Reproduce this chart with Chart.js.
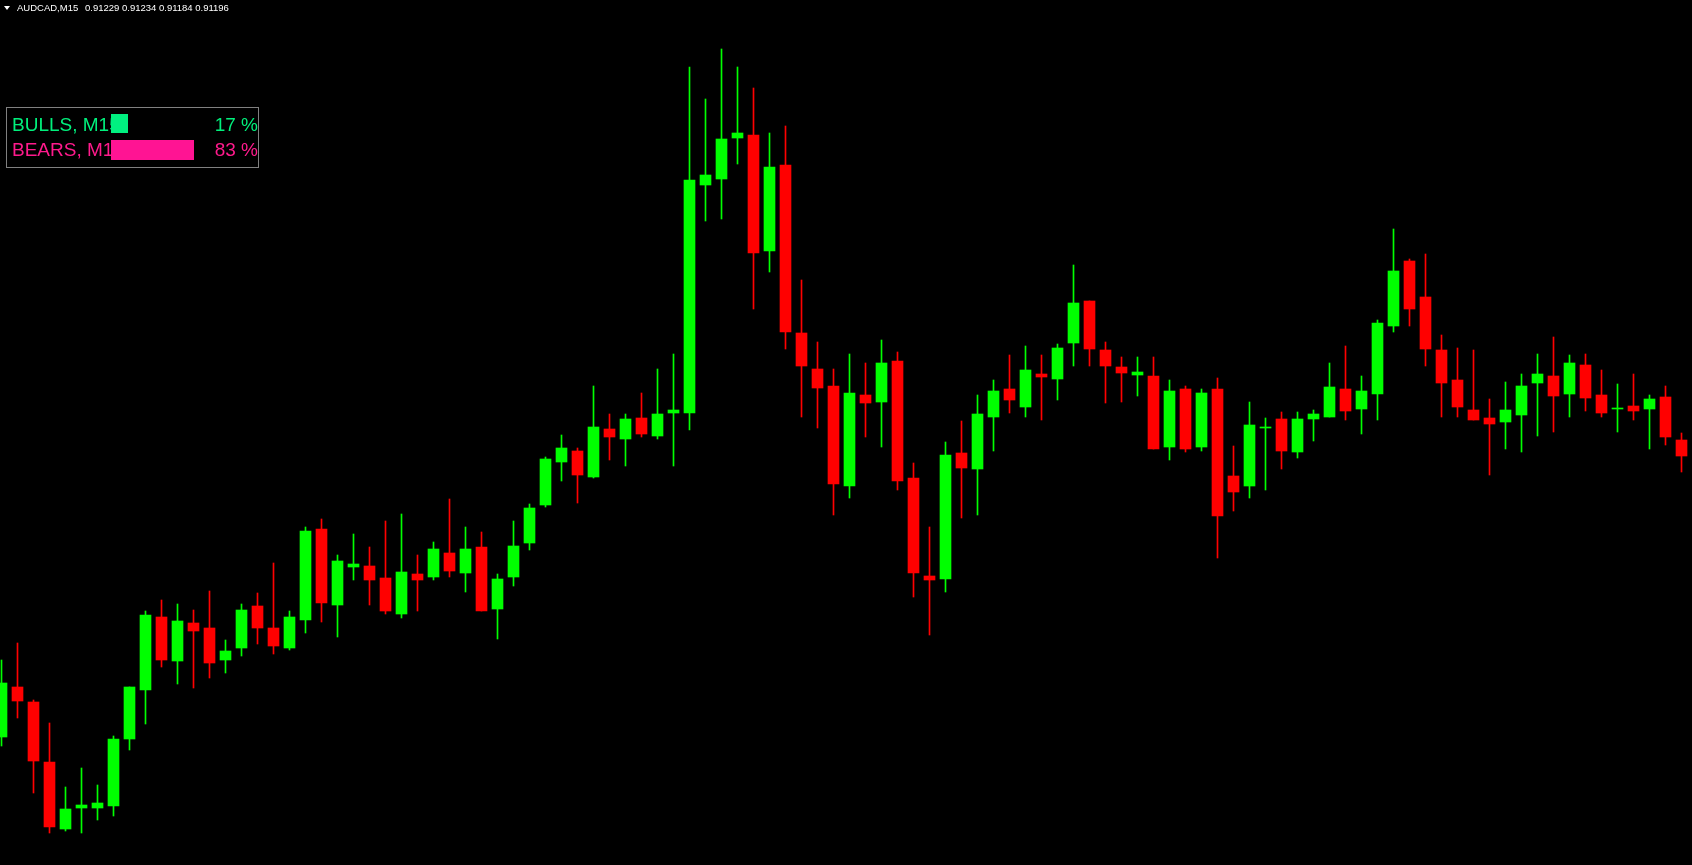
<!DOCTYPE html>
<html>
<head>
<meta charset="utf-8">
<title>AUDCAD,M15</title>
<script src="https://cdn.jsdelivr.net/npm/chart.js@4.4.1/dist/chart.umd.min.js"></script>
<style>
  html, body { margin: 0; padding: 0; background: #000; overflow: hidden; }
  #wrap { width: 1692px; height: 865px; position: relative; }
</style>
</head>
<body>
<div id="wrap"><canvas id="candles"></canvas></div>
<script>
// AUDCAD M15 bars, oldest first
const opens = [
  0.90915, 0.90965, 0.90950, 0.90890, 0.90823, 0.90844, 0.90844, 0.90846, 0.90913, 0.90962,
  0.91035, 0.90991, 0.91029, 0.91024, 0.90992, 0.91004, 0.91046, 0.91024, 0.91004, 0.91032,
  0.91123, 0.91047, 0.91085, 0.91086, 0.91074, 0.91038, 0.91078, 0.91075, 0.91099, 0.91079,
  0.91105, 0.91043, 0.91075, 0.91109, 0.91147, 0.91190, 0.91201, 0.91175, 0.91223, 0.91213,
  0.91234, 0.91216, 0.91239, 0.91239, 0.91467, 0.91473, 0.91514, 0.91517, 0.91401, 0.91487,
  0.91319, 0.91283, 0.91266, 0.91166, 0.91257, 0.91250, 0.91291, 0.91174, 0.91076, 0.91073,
  0.91199, 0.91183, 0.91235, 0.91263, 0.91245, 0.91278, 0.91273, 0.91309, 0.91351, 0.91302,
  0.91285, 0.91277, 0.91276, 0.91205, 0.91263, 0.91205, 0.91263, 0.91176, 0.91166, 0.91224,
  0.91233, 0.91200, 0.91233, 0.91235, 0.91263, 0.91243, 0.91258, 0.91326, 0.91391, 0.91355,
  0.91302, 0.91272, 0.91242, 0.91234, 0.91230, 0.91237, 0.91269, 0.91276, 0.91258, 0.91287,
  0.91257, 0.91243, 0.91246, 0.91243, 0.91255, 0.91212
];
const highs = [
  0.90992, 0.91009, 0.90952, 0.90929, 0.90865, 0.90884, 0.90867, 0.90916, 0.90965, 0.91041,
  0.91052, 0.91048, 0.91042, 0.91061, 0.91012, 0.91048, 0.91059, 0.91089, 0.91041, 0.91125,
  0.91133, 0.91097, 0.91118, 0.91105, 0.91131, 0.91138, 0.91097, 0.91110, 0.91153, 0.91125,
  0.91120, 0.91078, 0.91131, 0.91148, 0.91195, 0.91217, 0.91204, 0.91266, 0.91238, 0.91238,
  0.91259, 0.91283, 0.91298, 0.91585, 0.91553, 0.91603, 0.91585, 0.91564, 0.91519, 0.91526,
  0.91372, 0.91310, 0.91283, 0.91298, 0.91289, 0.91312, 0.91300, 0.91189, 0.91125, 0.91210,
  0.91231, 0.91257, 0.91272, 0.91297, 0.91306, 0.91297, 0.91308, 0.91387, 0.91351, 0.91310,
  0.91295, 0.91295, 0.91295, 0.91272, 0.91266, 0.91263, 0.91274, 0.91206, 0.91250, 0.91234,
  0.91240, 0.91240, 0.91242, 0.91289, 0.91306, 0.91276, 0.91332, 0.91423, 0.91393, 0.91398,
  0.91317, 0.91304, 0.91302, 0.91253, 0.91270, 0.91278, 0.91298, 0.91315, 0.91297, 0.91298,
  0.91282, 0.91268, 0.91278, 0.91257, 0.91266, 0.91219
];
const lows = [
  0.90906, 0.90934, 0.90859, 0.90819, 0.90821, 0.90819, 0.90832, 0.90836, 0.90902, 0.90928,
  0.90985, 0.90968, 0.90964, 0.90974, 0.90979, 0.90996, 0.91008, 0.90998, 0.91002, 0.91019,
  0.91030, 0.91015, 0.91072, 0.91047, 0.91038, 0.91034, 0.91041, 0.91072, 0.91075, 0.91060,
  0.91041, 0.91013, 0.91066, 0.91102, 0.91145, 0.91171, 0.91149, 0.91174, 0.91192, 0.91186,
  0.91215, 0.91213, 0.91186, 0.91222, 0.91431, 0.91433, 0.91488, 0.91343, 0.91380, 0.91303,
  0.91235, 0.91224, 0.91137, 0.91154, 0.91215, 0.91205, 0.91162, 0.91055, 0.91017, 0.91060,
  0.91134, 0.91137, 0.91201, 0.91239, 0.91235, 0.91232, 0.91252, 0.91286, 0.91286, 0.91249,
  0.91250, 0.91256, 0.91203, 0.91192, 0.91200, 0.91201, 0.91094, 0.91141, 0.91154, 0.91162,
  0.91183, 0.91194, 0.91211, 0.91235, 0.91232, 0.91218, 0.91232, 0.91320, 0.91326, 0.91286,
  0.91235, 0.91235, 0.91232, 0.91177, 0.91203, 0.91200, 0.91216, 0.91220, 0.91235, 0.91241,
  0.91235, 0.91220, 0.91232, 0.91203, 0.91207, 0.91180
];
const closes = [
  0.90969, 0.90951, 0.90891, 0.90825, 0.90843, 0.90847, 0.90849, 0.90913, 0.90965, 0.91037,
  0.90992, 0.91031, 0.91021, 0.90989, 0.91001, 0.91042, 0.91024, 0.91006, 0.91035, 0.91121,
  0.91049, 0.91091, 0.91088, 0.91072, 0.91041, 0.91080, 0.91072, 0.91103, 0.91081, 0.91103,
  0.91041, 0.91073, 0.91106, 0.91144, 0.91193, 0.91204, 0.91177, 0.91225, 0.91215, 0.91233,
  0.91218, 0.91238, 0.91242, 0.91472, 0.91477, 0.91513, 0.91519, 0.91399, 0.91485, 0.91320,
  0.91286, 0.91264, 0.91168, 0.91259, 0.91249, 0.91289, 0.91171, 0.91079, 0.91072, 0.91197,
  0.91184, 0.91238, 0.91261, 0.91252, 0.91282, 0.91275, 0.91304, 0.91349, 0.91303, 0.91286,
  0.91279, 0.91280, 0.91203, 0.91261, 0.91203, 0.91259, 0.91136, 0.91160, 0.91227, 0.91225,
  0.91201, 0.91233, 0.91238, 0.91265, 0.91241, 0.91261, 0.91329, 0.91381, 0.91343, 0.91303,
  0.91269, 0.91245, 0.91232, 0.91228, 0.91242, 0.91266, 0.91278, 0.91256, 0.91289, 0.91254,
  0.91239, 0.91244, 0.91241, 0.91253, 0.91215, 0.91196
];

// header text and the bulls/bears power panel
const symbolLabel = 'AUDCAD,M15';
const lastQuote = ['0.91229', '0.91234', '0.91184', '0.91196'];
const bullsPct = 17;
const bearsPct = 83;

const UP = '#00ff00';
const DOWN = '#ff0000';

const barColors = closes.map((c, i) => (c >= opens[i] ? UP : DOWN));
const bodyData = opens.map((o, i) => ({ x: i, y: [o, closes[i]] }));
const wickData = lows.map((l, i) => ({ x: i, y: [l, highs[i]] }));

// overlay: symbol line on top and the BULLS/BEARS box
const overlayPlugin = {
  id: 'overlay',
  afterDraw(chart) {
    const ctx = chart.ctx;
    ctx.save();

    // little dropdown triangle + quote line
    ctx.fillStyle = '#ffffff';
    ctx.beginPath();
    ctx.moveTo(4, 6);
    ctx.lineTo(10, 6);
    ctx.lineTo(7, 10);
    ctx.closePath();
    ctx.fill();
    ctx.font = '9.5px "Liberation Sans", Arial, sans-serif';
    ctx.textBaseline = 'alphabetic';
    ctx.textAlign = 'left';
    ctx.fillText(symbolLabel, 17, 11);
    ctx.fillText(lastQuote.join(' '), 85, 11);

    // panel
    ctx.fillStyle = '#000000';
    ctx.fillRect(6, 107, 253, 61);
    ctx.strokeStyle = '#808080';
    ctx.lineWidth = 1;
    ctx.strokeRect(6.5, 107.5, 252, 60);

    ctx.font = '19px "Liberation Sans", Arial, sans-serif';
    ctx.fillStyle = '#00f07c';
    ctx.fillText('BULLS, M15', 12, 131);
    ctx.fillStyle = '#ff1a8c';
    ctx.fillText('BEARS, M15', 12, 156);

    ctx.textAlign = 'right';
    ctx.fillStyle = '#00f07c';
    ctx.fillText(bullsPct + ' %', 258, 131);
    ctx.fillStyle = '#ff1a8c';
    ctx.fillText(bearsPct + ' %', 258, 156);

    // strength bars, 1px per percent
    ctx.fillStyle = '#00f080';
    ctx.fillRect(111, 114, bullsPct, 19);
    ctx.fillStyle = '#ff1493';
    ctx.fillRect(111, 140, bearsPct, 20);

    ctx.restore();
  }
};

const ctx = document.getElementById('candles');

new Chart(ctx, {
  type: 'bar',
  data: {
    datasets: [
      {
        label: 'body',
        data: bodyData,
        backgroundColor: barColors,
        borderWidth: 0,
        grouped: false,
        barThickness: 11,
        maxBarThickness: 11,
        minBarLength: 1,
        order: 0
      },
      {
        label: 'wick',
        data: wickData,
        backgroundColor: barColors,
        borderWidth: 0,
        grouped: false,
        barThickness: 1,
        maxBarThickness: 1,
        order: 1
      }
    ]
  },
  options: {
    responsive: true,
    maintainAspectRatio: false,
    animation: false,
    layout: { padding: 0 },
    plugins: {
      legend: { display: false },
      tooltip: { enabled: false }
    },
    scales: {
      x: {
        type: 'linear',
        display: false,
        offset: false,
        min: -0.09375,
        max: 105.65625
      },
      y: {
        display: false,
        min: 0.90787,
        max: 0.91652
      }
    }
  },
  plugins: [overlayPlugin]
});
</script>
</body>
</html>
